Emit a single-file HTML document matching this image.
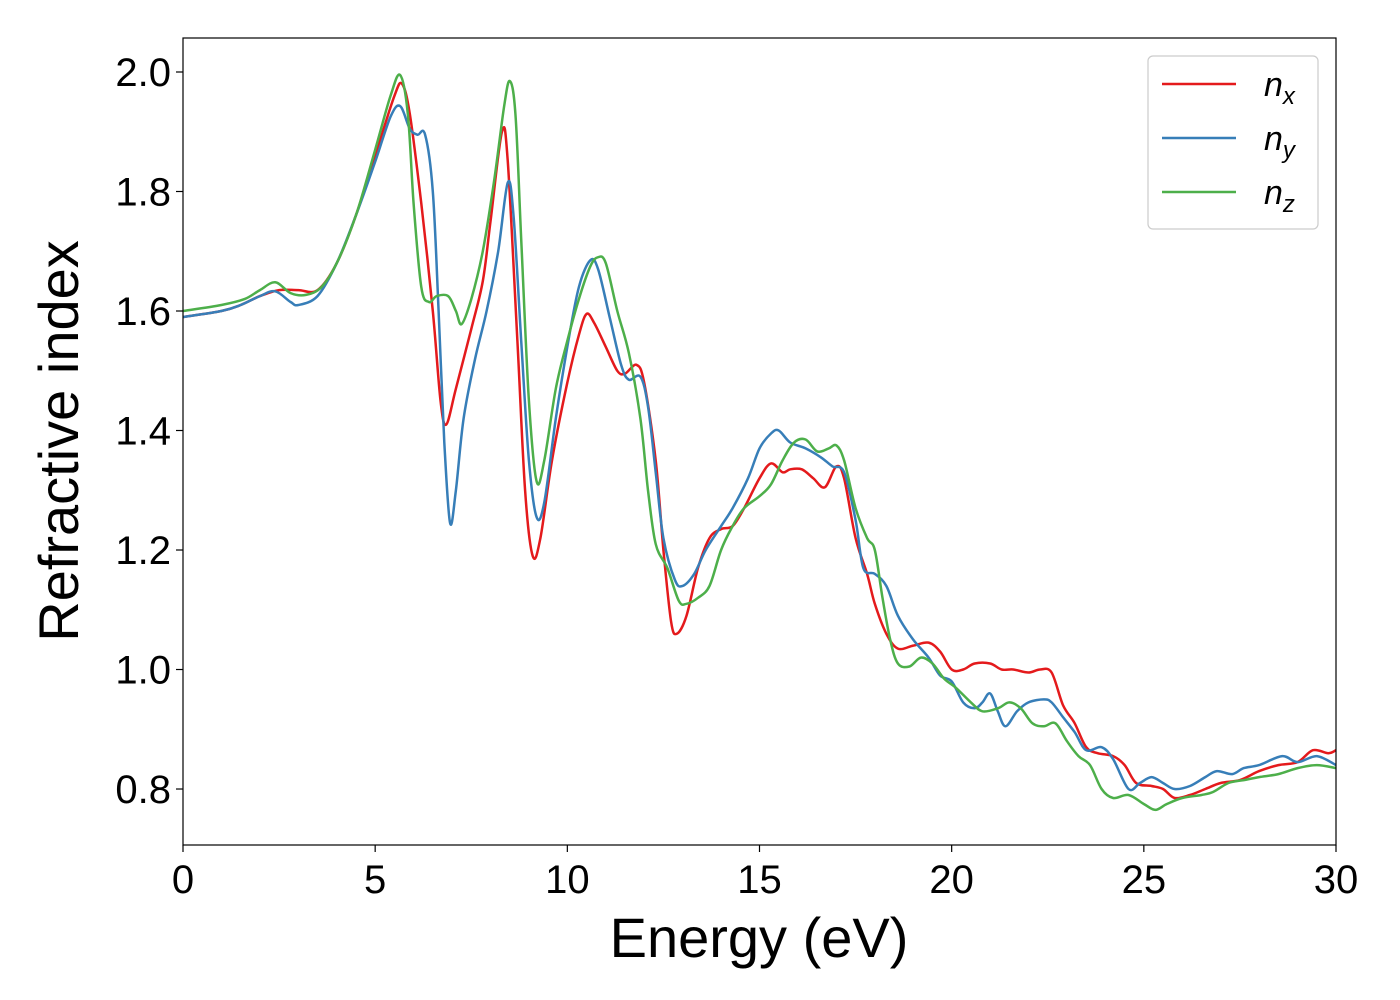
<!DOCTYPE html>
<html><head><meta charset="utf-8"><style>
html,body{margin:0;padding:0;background:#fff;}
svg{display:block;font-family:"Liberation Sans","DejaVu Sans",sans-serif;}
</style></head><body>
<svg id="chart" width="1400" height="1000" viewBox="0 0 1400 1000" xmlns="http://www.w3.org/2000/svg">
<g id="series"></g>
<rect x="183" y="38" width="1153" height="807" fill="none" stroke="#000" stroke-width="1.2"/>
<g id="xticks"></g>
<g id="yticks"></g>
<text x="759" y="957" font-size="56" text-anchor="middle">Energy (eV)</text>
<text transform="translate(78,441) rotate(-90)" font-size="56" text-anchor="middle">Refractive index</text>
<g>
<rect x="1148" y="56" width="170" height="173" rx="5" fill="#fff" stroke="#ccc" stroke-width="1.2"/>
<line x1="1162" y1="84" x2="1236" y2="84" stroke="#e41a1c" stroke-width="2.5"/>
<text x="1264" y="96" font-size="34" font-style="italic">n<tspan font-size="24" dy="8">x</tspan></text>
<line x1="1162" y1="138" x2="1236" y2="138" stroke="#377eb8" stroke-width="2.5"/>
<text x="1264" y="150" font-size="34" font-style="italic">n<tspan font-size="24" dy="8">y</tspan></text>
<line x1="1162" y1="192" x2="1236" y2="192" stroke="#4daf4a" stroke-width="2.5"/>
<text x="1264" y="204" font-size="34" font-style="italic">n<tspan font-size="24" dy="8">z</tspan></text>
</g>
</svg>
<script>
const xTicks=[0,5,10,15,20,25,30];
const yTicks=[0.8,1.0,1.2,1.4,1.6,1.8,2.0];
const nxE=[0,1,1.5,2,2.5,3,3.5,4,4.5,5,5.5,5.7,5.9,6.2,6.5,6.7,6.85,7.1,7.5,7.8,8.0,8.3,8.45,8.7,8.9,9.1,9.3,9.6,10,10.3,10.5,10.7,11,11.3,11.5,11.8,12.0,12.3,12.5,12.7,12.85,13.1,13.4,13.7,14,14.3,14.6,15,15.3,15.6,15.8,16.1,16.4,16.7,17,17.2,17.5,17.8,18,18.3,18.6,19,19.4,19.7,20,20.3,20.6,21,21.3,21.6,22,22.3,22.6,22.9,23.2,23.5,23.8,24.2,24.5,24.8,25.2,25.5,25.8,26.2,26.6,27,27.5,28,28.5,29,29.4,29.8,30];
const nxN=[1.59,1.60,1.61,1.625,1.635,1.635,1.635,1.68,1.76,1.86,1.96,1.98,1.93,1.78,1.6,1.45,1.41,1.47,1.57,1.65,1.75,1.9,1.85,1.55,1.3,1.19,1.22,1.35,1.48,1.56,1.595,1.58,1.54,1.5,1.495,1.51,1.48,1.35,1.2,1.08,1.06,1.09,1.17,1.22,1.235,1.24,1.27,1.32,1.345,1.33,1.335,1.335,1.32,1.305,1.34,1.32,1.22,1.16,1.11,1.06,1.035,1.04,1.045,1.03,1.0,1.0,1.01,1.01,1.0,1.0,0.995,1.0,0.995,0.94,0.91,0.87,0.86,0.855,0.84,0.81,0.805,0.8,0.785,0.79,0.8,0.81,0.815,0.83,0.84,0.845,0.865,0.86,0.865];
const nyE=[0,1,1.5,2,2.4,2.8,3,3.5,4,4.5,5,5.4,5.65,5.9,6.1,6.3,6.5,6.65,6.8,6.95,7.1,7.3,7.6,7.9,8.2,8.45,8.6,8.8,9.0,9.2,9.4,9.7,10.0,10.3,10.6,10.8,11.1,11.4,11.6,11.9,12.1,12.3,12.5,12.8,13.0,13.3,13.6,14,14.3,14.7,15,15.3,15.5,15.8,16.2,16.6,16.9,17.2,17.5,17.7,18,18.3,18.6,19,19.4,19.7,20,20.3,20.6,20.8,21,21.2,21.4,21.7,22,22.4,22.6,22.9,23.2,23.5,23.9,24.2,24.6,24.9,25.2,25.5,25.8,26.2,26.6,26.9,27.3,27.6,28,28.6,29,29.5,30];
const nyN=[1.59,1.6,1.61,1.625,1.633,1.615,1.61,1.625,1.68,1.76,1.85,1.925,1.943,1.905,1.895,1.895,1.8,1.6,1.38,1.245,1.3,1.42,1.52,1.6,1.7,1.815,1.76,1.55,1.35,1.255,1.28,1.42,1.54,1.64,1.685,1.67,1.59,1.51,1.485,1.49,1.44,1.33,1.22,1.15,1.14,1.16,1.2,1.24,1.27,1.32,1.37,1.395,1.4,1.38,1.37,1.355,1.34,1.33,1.25,1.17,1.16,1.14,1.09,1.05,1.02,0.99,0.98,0.945,0.935,0.945,0.96,0.93,0.905,0.93,0.945,0.95,0.945,0.92,0.895,0.865,0.87,0.85,0.8,0.81,0.82,0.81,0.8,0.805,0.82,0.83,0.825,0.835,0.84,0.855,0.845,0.855,0.84];
const nzE=[0,1,1.6,2,2.4,2.8,3.2,3.6,4,4.5,5,5.4,5.65,5.85,6.0,6.2,6.4,6.6,6.9,7.1,7.25,7.5,7.8,8.1,8.35,8.5,8.65,8.8,9.0,9.2,9.4,9.7,10,10.3,10.6,10.8,11.0,11.3,11.6,11.9,12.1,12.3,12.6,12.9,13.1,13.4,13.7,14,14.3,14.6,15,15.3,15.6,15.9,16.2,16.5,16.8,17,17.2,17.5,17.8,18,18.2,18.4,18.6,18.9,19.2,19.5,19.8,20.1,20.5,20.8,21.2,21.5,21.8,22.1,22.4,22.7,23,23.3,23.6,23.9,24.2,24.6,25,25.3,25.6,26,26.5,26.8,27.2,27.6,28,28.5,29,29.5,30];
const nzN=[1.6,1.61,1.62,1.635,1.648,1.63,1.627,1.64,1.68,1.76,1.87,1.96,1.995,1.93,1.78,1.64,1.615,1.625,1.625,1.6,1.578,1.62,1.7,1.82,1.94,1.985,1.93,1.72,1.45,1.315,1.35,1.47,1.55,1.62,1.675,1.69,1.68,1.6,1.53,1.42,1.3,1.21,1.17,1.115,1.11,1.12,1.14,1.2,1.24,1.27,1.29,1.31,1.35,1.38,1.385,1.365,1.37,1.375,1.35,1.27,1.22,1.2,1.12,1.05,1.01,1.005,1.02,1.01,0.985,0.97,0.945,0.93,0.935,0.945,0.935,0.91,0.905,0.91,0.88,0.855,0.84,0.8,0.785,0.79,0.775,0.765,0.775,0.785,0.79,0.795,0.81,0.815,0.82,0.825,0.835,0.84,0.835];

const NS="http://www.w3.org/2000/svg";
const X0=183,X1=1336,Y0=845,Y1=38,xmin=0,xmax=30,ymin=0.7063,ymax=2.0569;
function xs(v){return X0+(v-xmin)/(xmax-xmin)*(X1-X0);}
function ys(v){return Y0-(v-ymin)/(ymax-ymin)*(Y0-Y1);}
function mk(tag,attrs,parent){const e=document.createElementNS(NS,tag);for(const k in attrs)e.setAttribute(k,attrs[k]);parent.appendChild(e);return e;}
function smooth(E,N){
  const p=E.map((e,i)=>[xs(e),ys(N[i])]);
  let d="M"+p[0][0].toFixed(1)+","+p[0][1].toFixed(1);
  for(let i=0;i<p.length-1;i++){
    const a=p[Math.max(0,i-1)],b=p[i],c=p[i+1],f=p[Math.min(p.length-1,i+2)];
    const c1=[b[0]+(c[0]-a[0])/6,b[1]+(c[1]-a[1])/6],c2=[c[0]-(f[0]-b[0])/6,c[1]-(f[1]-b[1])/6];
    d+=" C"+c1[0].toFixed(1)+","+c1[1].toFixed(1)+" "+c2[0].toFixed(1)+","+c2[1].toFixed(1)+" "+c[0].toFixed(1)+","+c[1].toFixed(1);
  }
  return d;
}
const sg=document.getElementById("series");
const defs=[["nx",nxE,nxN,"#e41a1c"],["ny",nyE,nyN,"#377eb8"],["nz",nzE,nzN,"#4daf4a"]];
for(const [n,E,N,c] of defs){
  const p=mk("path",{d:smooth(E,N),fill:"none",stroke:c,"stroke-width":2.5},sg);
  
  
}
const xg=document.getElementById("xticks");
for(const t of xTicks){
  const l=mk("line",{x1:xs(t),x2:xs(t),y1:Y0,y2:Y0+7,stroke:"#000","stroke-width":1.2},xg);
  
  
  const tx=mk("text",{x:xs(t),y:Y0+48,"font-size":40,"text-anchor":"middle"},xg);
  tx.textContent=String(t);
  
  
}
const yg=document.getElementById("yticks");
for(const t of yTicks){
  const l=mk("line",{x1:X0-7,x2:X0,y1:ys(t),y2:ys(t),stroke:"#000","stroke-width":1.2},yg);
  
  
  const tx=mk("text",{x:X0-12,y:ys(t)+14,"font-size":40,"text-anchor":"end"},yg);
  tx.textContent=t.toFixed(1);
  
  
}
</script>
</body></html>
